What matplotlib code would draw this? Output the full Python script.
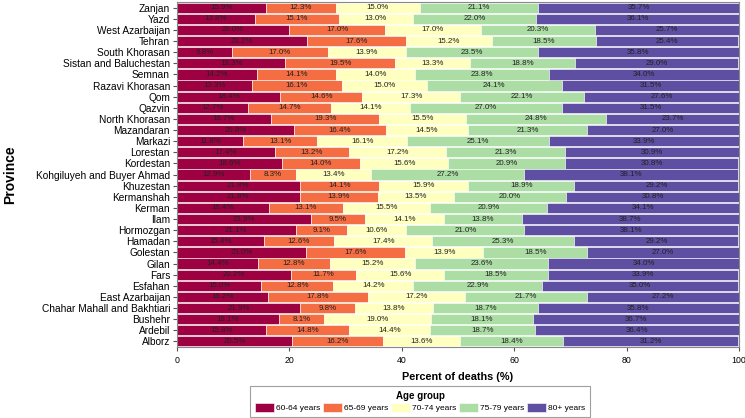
import numpy as np
import matplotlib
matplotlib.use("Agg")
import matplotlib.pyplot as plt

plt.rcParams['font.family'] = ['Liberation Sans', 'DejaVu Sans']

# ── Data (top to bottom as shown) ────────────────────────────────────────────
provinces = ["Zanjan", "Yazd", "West Azarbaijan", "Tehran", "South Khorasan",
             "Sistan and Baluchestan", "Semnan", "Razavi Khorasan", "Qom", "Qazvin",
             "North Khorasan", "Mazandaran", "Markazi", "Lorestan", "Kordestan",
             "Kohgiluyeh and Buyer Ahmad", "Khuzestan", "Kermanshah", "Kerman", "Ilam",
             "Hormozgan", "Hamadan", "Golestan", "Gilan", "Fars", "Esfahan",
             "East Azarbaijan", "Chahar Mahall and Bakhtiari", "Bushehr", "Ardebil", "Alborz"]
age_groups = ["60-64 years", "65-69 years", "70-74 years", "75-79 years", "80+ years"]

age_60_64 = [15.9, 13.8, 20.0, 23.2, 9.8, 19.3, 14.2, 13.3, 18.4, 12.7, 16.7, 20.8, 11.8,
             17.4, 18.6, 12.9, 21.8, 21.8, 16.4, 23.9, 21.1, 15.4, 23.0, 14.4, 20.2,
             15.0, 16.2, 21.9, 18.1, 15.8, 20.5]
age_65_69 = [12.3, 15.1, 17.0, 17.6, 17.0, 19.5, 14.1, 16.1, 14.6, 14.7, 19.3, 16.4, 13.1,
             13.2, 14.0, 8.3, 14.1, 13.9, 13.1, 9.5, 9.1, 12.6, 17.6, 12.8, 11.7,
             12.8, 17.8, 9.8, 8.1, 14.8, 16.2]
age_70_74 = [15.0, 13.0, 17.0, 15.2, 13.9, 13.3, 14.0, 15.0, 17.3, 14.1, 15.5, 14.5, 16.1,
             17.2, 15.6, 13.4, 15.9, 13.5, 15.5, 14.1, 10.6, 17.4, 13.9, 15.2, 15.6,
             14.2, 17.2, 13.8, 19.0, 14.4, 13.6]
age_75_79 = [21.1, 22.0, 20.3, 18.5, 23.5, 18.8, 23.8, 24.1, 22.1, 27.0, 24.8, 21.3, 25.1,
             21.3, 20.9, 27.2, 18.9, 20.0, 20.9, 13.8, 21.0, 25.3, 18.5, 23.6, 18.5,
             22.9, 21.7, 18.7, 18.1, 18.7, 18.4]
age_80_plus = [35.7, 36.1, 25.7, 25.4, 35.8, 29.0, 34.0, 31.5, 27.6, 31.5, 23.7, 27.0, 33.9,
               30.9, 30.8, 38.1, 29.2, 30.8, 34.1, 38.7, 38.1, 29.2, 27.0, 34.0, 33.9,
               35.0, 27.2, 35.8, 36.7, 36.4, 31.2]

series = [age_60_64, age_65_69, age_70_74, age_75_79, age_80_plus]
colors = ["#9E0142", "#F46D43", "#FFFFBF", "#ABDDA4", "#5E4FA2"]

# ── Plot ─────────────────────────────────────────────────────────────────────
fig = plt.figure(figsize=(7.45, 4.18), dpi=100)
ax = fig.add_axes([0.2376, 0.17, 0.7544, 0.825])

n = len(provinces)
y = np.arange(n)[::-1]
left = np.zeros(n)
for vals, col, lab in zip(series, colors, age_groups):
    vals = np.array(vals)
    ax.barh(y, vals, left=left, height=0.92, color=col, edgecolor="white",
            linewidth=0.4, label=lab)
    for yi, l, v in zip(y, left, vals):
        ax.text(l + v / 2, yi, f"{v:.1f}%", ha="center", va="center",
                fontsize=5.7, color="#222222")
    left += vals

ax.set_xlim(0, 100)
ax.set_ylim(-0.5, n - 0.5)
ax.set_yticks(y)
ax.set_yticklabels(provinces, fontsize=7.3)
ax.set_xticks([0, 20, 40, 60, 80, 100])
ax.tick_params(axis="x", labelsize=6.3, length=3, color="#555555")
ax.tick_params(axis="y", length=3, color="#555555", pad=2)
for s in ax.spines.values():
    s.set_color("#888888")
    s.set_linewidth(0.8)

ax.set_xlabel("Percent of deaths (%)", fontsize=7.8, fontweight="bold", labelpad=5)
ax.set_ylabel("Province", fontsize=10, fontweight="bold")
ax.yaxis.set_label_coords(-0.284, 0.5)

leg = fig.legend(loc="lower center", bbox_to_anchor=(0.5638, 0.002), ncol=5,
                 title="Age group", fontsize=6,
                 title_fontproperties={"weight": "bold", "size": 7},
                 frameon=True, fancybox=False, edgecolor="#888888",
                 handlelength=2.3, handleheight=1.3, handletextpad=0.25,
                 columnspacing=0.3, borderpad=0.6, labelspacing=0.2,
                 borderaxespad=0.0)
leg.get_frame().set_linewidth(0.8)

fig.savefig("out.png", dpi=100)
